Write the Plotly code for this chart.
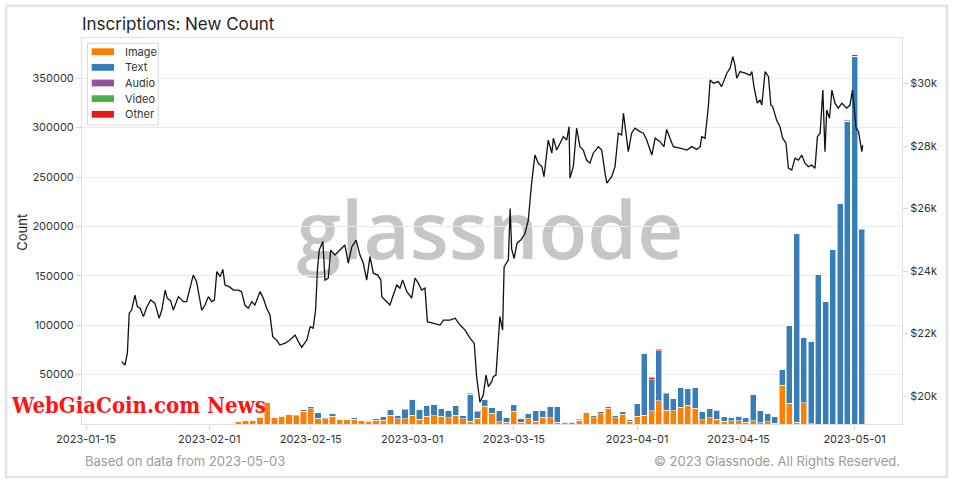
import plotly.graph_objects as go
import pandas as pd

# ---------------- data ----------------
bar_dates = pd.date_range("2023-02-04", "2023-05-02", freq="D")

image_cnt = [
    # Feb 4 - Feb 28
    1000, 3000, 3500, 4000, 7000, 21500, 6400, 8000, 9500, 8500, 13000, 15500, 6000,
    5500, 8000, 4200, 4200, 4800, 3200, 3000, 3800, 3800, 9000, 5500, 5500,
    # Mar 1 - Mar 31
    9000, 5000, 8000, 8200, 8000, 6300, 8700, 5200, 2600, 5600, 18000, 10800, 2500,
    2000, 13000, 2000, 5400, 2700, 6800, 6100, 2000, 2000, 2000, 4000, 11300, 6100,
    10500, 16000, 6500, 9800, 2700,
    # Apr 1 - Apr 30
    7600, 8800, 13400, 23700, 13900, 13500, 17000, 19000, 16000, 4100, 6100, 4800,
    3000, 3300, 3300, 2000, 3300, 1500, 2300, 1000, 39300, 20800, 1700, 21700, 300,
    0, 0, 0, 0, 0,
    # May 1 - May 2
    0, 0,
]
text_cnt = [
    0, 0, 100, 600, 1000, 500, 0, 800, 300, 900, 1800, 2100, 5500,
    1200, 2800, 500, 200, 2200, 400, 1000, 1600, 3600, 5500, 3300, 9000,
    16000, 10000, 10600, 11200, 8000, 7700, 9700, 3200, 27600, 6800, 6300, 5500, 11300,
    4800, 6600, 3400, 5500, 10800, 6700, 12000, 15600, 700, 500, 0, 600, 2300,
    2000, 1600, 2600, 2700, 2100,
    13200, 62900, 31400, 50200, 16500, 11900, 19500, 16800, 20800, 8800, 9400, 9200,
    4300, 2900, 4600, 4100, 26700, 12200, 8100, 7100, 15600, 78800, 191500, 65800, 83500,
    151000, 124000, 177000, 223500, 306500,
    372000, 196500,
]
audio_cnt = [0] * len(bar_dates)
video_cnt = [0] * len(bar_dates)
other_cnt = [0] * len(bar_dates)
audio_pts = {"2023-02-23": 300, "2023-04-12": 600, "2023-04-14": 400, "2023-04-15": 300}
video_pts = {"2023-02-19": 300, "2023-03-09": 600}
other_pts = {"2023-02-28": 700, "2023-03-09": 500, "2023-03-10": 900, "2023-03-20": 600,
             "2023-03-24": 700, "2023-04-02": 200, "2023-04-03": 2700, "2023-04-04": 2000,
             "2023-04-05": 1100, "2023-04-18": 600, "2023-04-23": 500, "2023-04-28": 500,
             "2023-04-30": 1200, "2023-05-01": 1800, "2023-05-02": 600}
date_keys = [d.strftime("%Y-%m-%d") for d in bar_dates]
for arr, pts in ((audio_cnt, audio_pts), (video_cnt, video_pts), (other_cnt, other_pts)):
    for k, v in pts.items():
        arr[date_keys.index(k)] = v

series_names = ["Image", "Text", "Audio", "Video", "Other"]
series_colors = ["#ff7f00", "#377eb8", "#984ea3", "#4daf4a", "#e41a1c"]
series_values = [image_cnt, text_cnt, audio_cnt, video_cnt, other_cnt]

price_time = [
    "2023-01-19 22:00", "2023-01-20 09:00", "2023-01-20 17:00", "2023-01-20 23:00", "2023-01-21 07:00",
    "2023-01-21 18:00", "2023-01-22 02:00", "2023-01-22 11:00", "2023-01-22 22:00", "2023-01-23 09:00",
    "2023-01-23 22:00", "2023-01-24 12:00", "2023-01-25 02:00", "2023-01-25 11:00", "2023-01-25 22:00",
    "2023-01-26 05:00", "2023-01-26 16:00", "2023-01-27 01:00", "2023-01-27 18:00", "2023-01-28 10:00",
    "2023-01-28 21:00", "2023-01-29 08:00", "2023-01-29 19:00", "2023-01-30 06:00", "2023-01-30 15:00",
    "2023-01-30 23:00", "2023-01-31 10:00", "2023-01-31 21:00", "2023-02-01 08:00", "2023-02-01 17:00",
    "2023-02-02 01:00", "2023-02-02 12:00", "2023-02-02 21:00", "2023-02-03 04:00", "2023-02-03 18:00",
    "2023-02-04 08:00", "2023-02-05 00:00", "2023-02-05 11:00", "2023-02-05 22:00", "2023-02-06 09:00",
    "2023-02-06 21:00", "2023-02-07 07:00", "2023-02-08 00:00", "2023-02-08 11:00", "2023-02-08 22:00",
    "2023-02-09 09:00", "2023-02-09 18:00", "2023-02-10 07:00", "2023-02-10 18:00", "2023-02-11 11:00",
    "2023-02-12 03:00", "2023-02-12 20:00", "2023-02-13 07:00", "2023-02-13 18:00", "2023-02-14 11:00",
    "2023-02-14 22:00", "2023-02-15 08:00", "2023-02-15 16:00", "2023-02-15 22:00", "2023-02-16 04:00",
    "2023-02-16 16:00", "2023-02-16 23:00", "2023-02-17 10:00", "2023-02-17 18:00", "2023-02-18 08:00",
    "2023-02-19 01:00", "2023-02-19 17:00", "2023-02-20 04:00", "2023-02-20 16:00", "2023-02-21 06:00",
    "2023-02-21 19:00", "2023-02-22 06:00", "2023-02-22 17:00", "2023-02-23 04:00", "2023-02-23 15:00",
    "2023-02-24 06:00", "2023-02-24 16:00", "2023-02-24 19:00", "2023-02-25 11:00", "2023-02-25 22:00",
    "2023-02-26 09:00", "2023-02-26 21:00", "2023-02-27 07:00", "2023-02-27 16:00", "2023-02-28 06:00",
    "2023-02-28 22:00", "2023-03-01 09:00", "2023-03-01 20:00", "2023-03-02 07:00", "2023-03-02 18:00",
    "2023-03-03 02:00", "2023-03-03 22:00", "2023-03-04 20:00", "2023-03-05 07:00", "2023-03-06 05:00",
    "2023-03-06 22:00", "2023-03-07 14:00", "2023-03-08 07:00", "2023-03-08 23:00", "2023-03-09 13:00",
    "2023-03-09 21:00", "2023-03-10 08:00", "2023-03-10 19:00", "2023-03-11 04:00", "2023-03-11 12:00",
    "2023-03-11 23:00", "2023-03-12 04:00", "2023-03-12 13:00", "2023-03-12 21:00", "2023-03-13 02:00",
    "2023-03-13 11:00", "2023-03-13 16:00", "2023-03-14 06:00", "2023-03-14 12:00", "2023-03-14 17:00",
    "2023-03-15 01:00", "2023-03-15 11:00", "2023-03-16 00:00", "2023-03-16 13:00", "2023-03-17 00:00",
    "2023-03-17 11:00", "2023-03-17 22:00", "2023-03-18 09:00", "2023-03-18 21:00", "2023-03-19 04:00",
    "2023-03-19 18:00", "2023-03-20 06:00", "2023-03-20 11:00", "2023-03-20 22:00", "2023-03-21 09:00",
    "2023-03-21 20:00", "2023-03-22 07:00", "2023-03-22 15:00", "2023-03-22 18:00", "2023-03-23 05:00",
    "2023-03-23 16:00", "2023-03-24 03:00", "2023-03-24 14:00", "2023-03-25 01:00", "2023-03-25 12:00",
    "2023-03-25 23:00", "2023-03-26 16:00", "2023-03-27 03:00", "2023-03-27 14:00", "2023-03-27 20:00",
    "2023-03-28 12:00", "2023-03-28 23:00", "2023-03-29 10:00", "2023-03-29 21:00", "2023-03-30 03:00",
    "2023-03-30 12:00", "2023-03-30 19:00", "2023-03-31 06:00", "2023-03-31 17:00", "2023-04-01 10:00",
    "2023-04-01 21:00", "2023-04-02 08:00", "2023-04-03 01:00", "2023-04-03 12:00", "2023-04-04 04:00",
    "2023-04-04 17:00", "2023-04-05 02:00", "2023-04-05 13:00", "2023-04-06 00:00", "2023-04-06 22:00",
    "2023-04-07 21:00", "2023-04-08 13:00", "2023-04-09 06:00", "2023-04-09 17:00", "2023-04-09 22:00",
    "2023-04-10 09:00", "2023-04-10 20:00", "2023-04-11 02:00", "2023-04-11 13:00", "2023-04-12 05:00",
    "2023-04-12 16:00", "2023-04-13 09:00", "2023-04-13 20:00", "2023-04-14 05:00", "2023-04-14 12:00",
    "2023-04-14 18:00", "2023-04-15 05:00", "2023-04-15 22:00", "2023-04-16 14:00", "2023-04-16 20:00",
    "2023-04-17 03:00", "2023-04-17 14:00", "2023-04-17 23:00", "2023-04-18 05:00", "2023-04-18 16:00",
    "2023-04-19 03:00", "2023-04-19 11:00", "2023-04-19 17:00", "2023-04-20 06:00", "2023-04-20 17:00",
    "2023-04-21 02:00", "2023-04-21 13:00", "2023-04-21 21:00", "2023-04-22 08:00", "2023-04-22 19:00",
    "2023-04-23 06:00", "2023-04-23 17:00", "2023-04-24 04:00", "2023-04-24 15:00", "2023-04-25 02:00",
    "2023-04-25 13:00", "2023-04-25 21:00", "2023-04-26 06:00", "2023-04-26 15:00", "2023-04-26 22:00",
    "2023-04-27 04:00", "2023-04-27 13:00", "2023-04-27 21:00", "2023-04-28 07:00", "2023-04-28 18:00",
    "2023-04-29 06:00", "2023-04-29 22:00", "2023-04-30 09:00", "2023-04-30 17:00", "2023-04-30 23:00",
    "2023-05-01 05:00", "2023-05-01 13:00", "2023-05-02 00:00", "2023-05-02 03:00",
]
price_usd = [
    21100, 20990, 21370, 22650, 22750, 23230, 22860, 22810, 22540, 22840,
    23070, 22970, 22490, 22750, 23390, 23130, 23050, 22750, 23180, 23020,
    23020, 23450, 23870, 23660, 23180, 22750, 22910, 23180, 23020, 23070,
    23980, 23820, 24050, 23550, 23500, 23390, 23390, 23340, 22910, 22810,
    23020, 22910, 23340, 23130, 22810, 22590, 21900, 21790, 21630, 21690,
    21790, 21950, 21740, 21560, 21790, 22220, 22170, 22750, 24030, 24670,
    24940, 23710, 23770, 24670, 24510, 24670, 24830, 24250, 24780, 24990,
    24510, 24250, 23710, 24460, 23930, 23870, 23710, 23180, 23020, 22910,
    23230, 23550, 23450, 23710, 23340, 23130, 23770, 23610, 23390, 23450,
    22380, 22330, 22270, 22430, 22430, 22490, 22270, 22110, 21850, 21690,
    20620, 19800, 20030, 20670, 20300, 20460, 20620, 20670, 21790, 22540,
    22110, 24140, 24350, 26000, 24700, 24400, 24900, 25000, 25200, 25630,
    26810, 27710, 27450, 27340, 27020, 28190, 27770, 28250, 27870, 28090,
    28300, 28190, 28620, 26970, 27340, 28570, 27980, 27870, 27550, 27450,
    27770, 27980, 27870, 27130, 26810, 27020, 27340, 28410, 28350, 29050,
    28410, 27820, 28410, 28570, 28460, 28410, 28190, 27710, 28250, 28140,
    27980, 28530, 28250, 27980, 27930, 27870, 27980, 27890, 27980, 28300,
    28250, 29260, 30110, 30010, 30060, 29900, 30330, 30490, 30860, 30590,
    30170, 30380, 30330, 30270, 30380, 29900, 29370, 29470, 29310, 30380,
    30220, 29310, 29260, 28830, 28620, 28250, 28090, 27290, 27230, 27610,
    27550, 27710, 27450, 27340, 27390, 27290, 28300, 28410, 29790, 27820,
    29150, 28890, 29790, 29370, 29210, 29370, 29210, 29310, 29790, 29260,
    28570, 28460, 27820, 28030,
]
assert len(price_time) == len(price_usd)
for s in series_values:
    assert len(s) == len(bar_dates)

x_tick_vals = ["2023-01-15", "2023-02-01", "2023-02-15", "2023-03-01",
               "2023-03-15", "2023-04-01", "2023-04-15", "2023-05-01"]
y_tick_vals = [50000, 100000, 150000, 200000, 250000, 300000, 350000]
y2_tick_vals = [20000, 22000, 24000, 26000, 28000, 30000]
y2_tick_text = ["$20k", "$22k", "$24k", "$26k", "$28k", "$30k"]

# ---------------- layout helpers ----------------
W, H = 959, 484
ML, MR, MT, MB = 82, 57, 38, 60
PW, PH = W - ML - MR, H - MT - MB


def px(x):
    return (x - ML) / PW


def py(y):
    return (H - MB - y) / PH


FONT = "Inter, 'Noto Sans', sans-serif"

fig = go.Figure()
for name, color, vals in zip(series_names, series_colors, series_values):
    fig.add_trace(go.Bar(
        x=bar_dates, y=vals, name=name, marker_color=color,
        marker_line=dict(color="rgba(255,255,255,0.55)", width=1),
        width=0.84 * 86400000, showlegend=False, yaxis="y",
    ))

fig.add_trace(go.Scatter(
    x=pd.to_datetime(price_time), y=price_usd, mode="lines",
    line=dict(color="#111111", width=1.3), yaxis="y2", showlegend=False,
))

shapes = []
annotations = []
# watermark (below traces)
shapes.append(dict(type="rect", xref="paper", yref="paper",
                   x0=px(280), x1=px(700), y0=py(273), y1=py(193),
                   line=dict(width=0), fillcolor="rgba(0,0,0,0)", layer="below",
                   label=dict(text="glassnode", textposition="middle center",
                              font=dict(family="'Open Sans', Inter, sans-serif", size=80,
                                        weight=600, color="#c6c6c6"))))
# outer frame
shapes.append(dict(type="rect", xref="paper", yref="paper",
                   x0=px(6), x1=px(947), y0=py(477), y1=py(6),
                   line=dict(color="#e2e2e2", width=2.5), layer="above"))
# legend box
shapes.append(dict(type="rect", xref="paper", yref="paper",
                   x0=px(87.3), x1=px(158.3), y0=py(125), y1=py(43.3),
                   line=dict(color="#d8d8d8", width=1), fillcolor="white", layer="above"))
for i, (name, color) in enumerate(zip(series_names, series_colors)):
    cy = 51.7 + 15.65 * i
    shapes.append(dict(type="rect", xref="paper", yref="paper",
                       x0=px(91.7), x1=px(114), y0=py(cy + 3.4), y1=py(cy - 3.4),
                       line=dict(width=0), fillcolor=color, layer="above"))
    annotations.append(dict(text=name, xref="paper", yref="paper", x=px(122.5), y=py(cy),
                            xanchor="left", yanchor="middle", showarrow=False,
                            font=dict(family=FONT, size=11, color="#333333")))

annotations += [
    dict(text="Count", xref="paper", yref="paper", x=px(21.7), y=py(232), textangle=-90,
         xanchor="center", yanchor="middle", showarrow=False,
         font=dict(family=FONT, size=13, color="#222222")),
    dict(text="Based on data from 2023-05-03", xref="paper", yref="paper",
         x=px(82.5), y=py(461), xanchor="left", yanchor="middle", showarrow=False,
         font=dict(family=FONT, size=13, color="#9a9a9a")),
    dict(text="© 2023 Glassnode. All Rights Reserved.", xref="paper", yref="paper",
         x=px(902), y=py(461), xanchor="right", yanchor="middle", showarrow=False,
         font=dict(family=FONT, size=13, color="#9a9a9a")),
    dict(text="<b>WebGiaCoin.com News</b>", xref="paper", yref="paper",
         x=px(9), y=py(405), xanchor="left", yanchor="middle", showarrow=False,
         font=dict(family="'DejaVu Serif Condensed', 'DejaVu Sans Condensed', serif",
                   size=22, color="#ff1414")),
]

fig.update_layout(
    width=W, height=H, autosize=False,
    margin=dict(l=ML, r=MR, t=MT, b=MB, pad=0),
    paper_bgcolor="white", plot_bgcolor="white",
    barmode="stack", bargap=0.15,
    showlegend=False,
    title=dict(text="Inscriptions: New Count", xref="container", yref="container",
               x=ML / W, xanchor="left", y=1 - 24 / H, yanchor="middle",
               font=dict(family=FONT, size=17, color="#1e1e1e")),
    xaxis=dict(type="date", range=["2023-01-14 10:45", "2023-05-07 13:00"],
               tickvals=x_tick_vals, tickformat="%Y-%m-%d",
               ticks="outside", ticklen=5, tickcolor="#d6d6d6",
               showgrid=False, showline=True, linecolor="#e0e0e0", mirror=True,
               zeroline=False, automargin=False,
               tickfont=dict(family=FONT, size=11, color="#333333")),
    yaxis=dict(range=[0, 390700], tickvals=y_tick_vals, tickformat="d",
               ticks="outside", ticklen=5, tickcolor="#d6d6d6",
               showgrid=True, gridcolor="#ebebeb", gridwidth=1,
               showline=True, linecolor="#e0e0e0", zeroline=False, automargin=False,
               tickfont=dict(family=FONT, size=11, color="#333333")),
    yaxis2=dict(range=[19104, 31456], overlaying="y", side="right",
                tickvals=y2_tick_vals, ticktext=y2_tick_text,
                ticks="outside", ticklen=5, tickcolor="#d6d6d6",
                showgrid=False, showline=True, linecolor="#e0e0e0", zeroline=False,
                automargin=False,
                tickfont=dict(family=FONT, size=11, color="#333333")),
    shapes=shapes, annotations=annotations,
)

fig.write_html("out.html")
